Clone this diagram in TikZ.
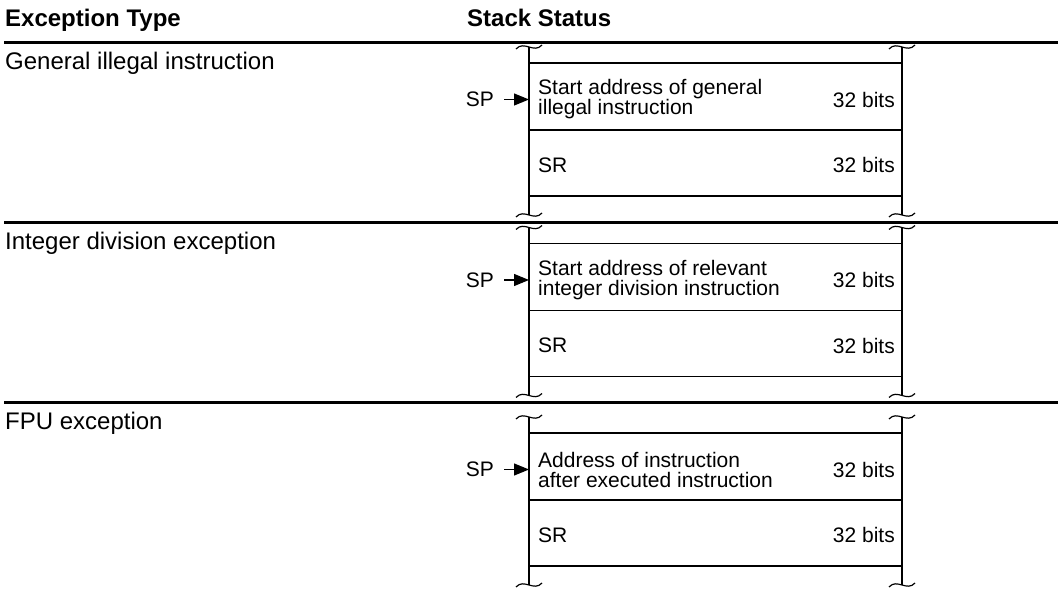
\documentclass[tikz,border=0pt]{standalone}
\usepackage{fontspec}
\setmainfont{Liberation Sans}
\usetikzlibrary{positioning}
\usetikzlibrary{arrows.meta}

\tikzset{
  stackrow/.style={draw,line width=1.2pt,outer sep=0pt,inner sep=0pt,minimum width=373pt},
  wall/.style={line width=1.2pt},
  rule/.style={line width=3.5pt},
  headtxt/.style={anchor=base west,inner sep=0pt,font=\fontsize{24}{28}\selectfont\bfseries},
  kindtxt/.style={anchor=base west,inner sep=0pt,font=\fontsize{24}{28}\selectfont},
  entry/.style={anchor=west,inner sep=0pt,align=left,font=\fontsize{21}{20}\selectfont},
  bits/.style={anchor=east,inner sep=0pt,font=\fontsize{21}{20}\selectfont},
  sptxt/.style={anchor=east,inner sep=0pt,font=\fontsize{21}{20}\selectfont},
  sparrow/.style={-{Triangle[length=15pt,width=12pt]},line width=1.2pt,shorten <=10pt},
  tilde/.pic={\draw[line width=1.2pt] (-13,2) .. controls (-5,-7) and (5,7) .. (13,-2);}
}

\begin{document}
\begin{tikzpicture}[x=1pt,y=-1pt]
  \useasboundingbox (0,0) rectangle (1058,593);
  % header
  \node[headtxt] (type) at (5,27) {Exception Type};
  \node[headtxt] (status) at (467,27) {Stack Status};
  \draw[rule] (4,42.5) -- (1058,42.5);
  % general illegal instruction
  \node[kindtxt] (general) at (5,70) {General illegal instruction};
  \node[stackrow,minimum height=67pt] (addr1) at (715.5,96.5) {};
  \node[stackrow,minimum height=66pt,below=0pt of addr1] (sr1) {};
  \node[entry] (addrtxt1) at ([xshift=9pt,yshift=-3pt]addr1.west) {Start address of general\\illegal instruction};
  \node[bits] (bitsa1) at ([xshift=-7pt,yshift=-3pt]addr1.east) {32 bits};
  \node[entry] (srtxt1) at ([xshift=9pt,yshift=-2pt]sr1.west) {SR};
  \node[bits] (bitsb1) at ([xshift=-7pt,yshift=-2pt]sr1.east) {32 bits};
  \node[sptxt] (sp1) at ([xshift=-35pt,yshift=-3pt]addr1.west) {SP};
  \draw[sparrow] (sp1.east) -- (sp1.east -| addr1.west);
  \coordinate (tl1) at ([yshift=16pt]addr1.north west);
  \coordinate (tr1) at ([yshift=16pt]addr1.north east);
  \coordinate (bl1) at ([yshift=-19pt]sr1.south west);
  \coordinate (br1) at ([yshift=-19pt]sr1.south east);
  \draw[wall] (tl1) -- (bl1) (tr1) -- (br1);
  \pic at (tl1) {tilde}; \pic at (tr1) {tilde};
  \pic at (bl1) {tilde}; \pic at (br1) {tilde};
  \draw[rule] (4,222.5) -- (1058,222.5);
  % integer division exception
  \node[kindtxt] (intdiv) at (5,250) {Integer division exception};
  \node[stackrow,minimum height=67pt] (addr2) at (715.5,277) {};
  \node[stackrow,minimum height=66pt,below=0pt of addr2] (sr2) {};
  \node[entry] (addrtxt2) at ([xshift=9pt,yshift=-3pt]addr2.west) {Start address of relevant\\integer division instruction};
  \node[bits] (bitsa2) at ([xshift=-7pt,yshift=-3pt]addr2.east) {32 bits};
  \node[entry] (srtxt2) at ([xshift=9pt,yshift=-2pt]sr2.west) {SR};
  \node[bits] (bitsb2) at ([xshift=-7pt,yshift=-2pt]sr2.east) {32 bits};
  \node[sptxt] (sp2) at ([xshift=-35pt,yshift=-3pt]addr2.west) {SP};
  \draw[sparrow] (sp2.east) -- (sp2.east -| addr2.west);
  \coordinate (tl2) at ([yshift=16pt]addr2.north west);
  \coordinate (tr2) at ([yshift=16pt]addr2.north east);
  \coordinate (bl2) at ([yshift=-19pt]sr2.south west);
  \coordinate (br2) at ([yshift=-19pt]sr2.south east);
  \draw[wall] (tl2) -- (bl2) (tr2) -- (br2);
  \pic at (tl2) {tilde}; \pic at (tr2) {tilde};
  \pic at (bl2) {tilde}; \pic at (br2) {tilde};
  \draw[rule] (4,402.5) -- (1058,402.5);
  % FPU exception
  \node[kindtxt] (fpu) at (5,430) {FPU exception};
  \node[stackrow,minimum height=67pt] (addr3) at (715.5,466.5) {};
  \node[stackrow,minimum height=66pt,below=0pt of addr3] (sr3) {};
  \node[entry] (addrtxt3) at ([xshift=9pt,yshift=-3pt]addr3.west) {Address of instruction\\after executed instruction};
  \node[bits] (bitsa3) at ([xshift=-7pt,yshift=-3pt]addr3.east) {32 bits};
  \node[entry] (srtxt3) at ([xshift=9pt,yshift=-2pt]sr3.west) {SR};
  \node[bits] (bitsb3) at ([xshift=-7pt,yshift=-2pt]sr3.east) {32 bits};
  \node[sptxt] (sp3) at ([xshift=-35pt,yshift=-3pt]addr3.west) {SP};
  \draw[sparrow] (sp3.east) -- (sp3.east -| addr3.west);
  \coordinate (tl3) at ([yshift=16pt]addr3.north west);
  \coordinate (tr3) at ([yshift=16pt]addr3.north east);
  \coordinate (bl3) at ([yshift=-19pt]sr3.south west);
  \coordinate (br3) at ([yshift=-19pt]sr3.south east);
  \draw[wall] (tl3) -- (bl3) (tr3) -- (br3);
  \pic at (tl3) {tilde}; \pic at (tr3) {tilde};
  \pic at (bl3) {tilde}; \pic at (br3) {tilde};
\end{tikzpicture}
\end{document}
